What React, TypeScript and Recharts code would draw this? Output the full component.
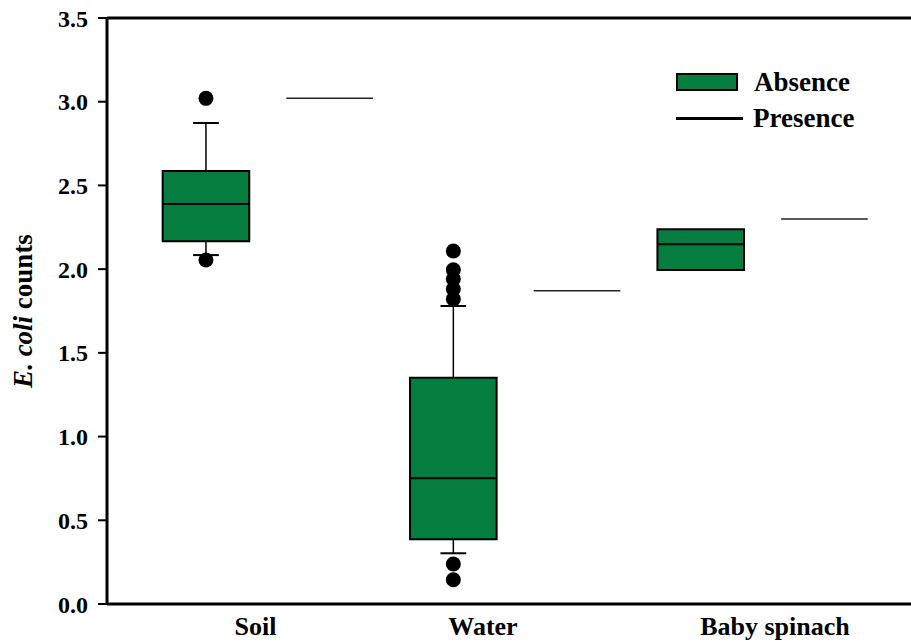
import React from 'react';
import {
  ComposedChart,
  XAxis,
  YAxis,
  Scatter,
  ReferenceArea,
  ReferenceLine,
} from 'recharts';

// one entry per group
const categories = ['Soil', 'Water', 'Baby spinach'];
const categoryTicks = [0.95, 1.87, 3.05];
const q1 = [2.166, 0.386, 1.995];
const median = [2.389, 0.751, 2.149];
const q3 = [2.586, 1.352, 2.238];
const whiskerLow = [2.084, 0.303, 1.995];
const whiskerHigh = [2.873, 1.78, 2.238];
const presence = [3.02, 1.871, 2.3];

const soilOutliers = [3.02, 2.055];
const waterOutliers = [2.108, 1.996, 1.941, 1.881, 1.822, 0.239, 0.145];
const spinachOutliers: number[] = [];

const yTicks = [0, 0.5, 1, 1.5, 2, 2.5, 3, 3.5];

const GREEN = '#057d3f';
const FONT = '"Liberation Serif", "Times New Roman", serif';

const BOX_OFF = -0.25;
const PRES_OFF = 0.25;
const HALF_BOX = 0.175;
const HALF_CAP = 0.052;

const outlierPoints = [soilOutliers, waterOutliers, spinachOutliers].flatMap((vals, i) =>
  vals.map((y) => ({ x: i + 1 + BOX_OFF, y }))
);

const renderYLabel = (props: any) => {
  const vb = props.viewBox || { x: 0, y: 18, width: 107, height: 586 };
  const cx = 23;
  const cy = vb.y + vb.height / 2;
  return (
    <text
      x={cx}
      y={cy}
      transform={`rotate(-90, ${cx}, ${cy})`}
      textAnchor="middle"
      dominantBaseline="central"
      fontFamily={FONT}
      fontWeight="bold"
      fontSize={27}
      fill="#000"
    >
      <tspan fontStyle="italic">E. coli</tspan>
      <tspan> counts</tspan>
    </text>
  );
};

function LegendBox() {
  return (
    <div
      style={{
        position: 'absolute',
        left: 676,
        top: 64,
        fontFamily: FONT,
        fontWeight: 'bold',
        fontSize: 27,
        color: '#000',
        lineHeight: '36px',
      }}
    >
      <div style={{ display: 'flex', alignItems: 'center' }}>
        <span style={{ display: 'inline-block', width: 58, height: 14, background: GREEN, border: '2px solid #000', marginRight: 16 }} />
        <span>Absence</span>
      </div>
      <div style={{ display: 'flex', alignItems: 'center' }}>
        <span style={{ display: 'inline-block', width: 67, height: 3, background: '#000', marginRight: 10 }} />
        <span>Presence</span>
      </div>
    </div>
  );
}

export default function App() {
  return (
    <div style={{ position: 'absolute', left: 0, top: 0, width: 911, height: 643, overflow: 'hidden', background: '#fff' }}>
      <ComposedChart width={911} height={643} margin={{ top: 18, right: 0, bottom: 0, left: 0 }}>
        <XAxis
          type="number"
          dataKey="x"
          domain={[0.35, 3.6]}
          ticks={categoryTicks}
          tickFormatter={(v: number) => categories[categoryTicks.indexOf(v)] ?? ''}
          interval={0}
          height={39}
          axisLine={{ stroke: '#000', strokeWidth: 3 }}
          tickLine={false}
          tickSize={0}
          tickMargin={13}
          tick={{ fontFamily: FONT, fontWeight: 'bold', fontSize: 26, fill: '#000' }}
          allowDataOverflow
        />
        <YAxis
          type="number"
          dataKey="y"
          domain={[0, 3.5]}
          ticks={yTicks}
          tickFormatter={(v: number) => v.toFixed(1)}
          interval={0}
          width={107}
          axisLine={{ stroke: '#000', strokeWidth: 3 }}
          tickLine={{ stroke: '#000', strokeWidth: 2 }}
          tickSize={9}
          tickMargin={10}
          tick={{ fontFamily: FONT, fontWeight: 'bold', fontSize: 24, fill: '#000' }}
          label={{ content: renderYLabel }}
          allowDataOverflow
        />
        <ReferenceLine y={3.5} stroke="#000" strokeWidth={3} ifOverflow="visible" />

        {categories.map((c, i) => {
          const bx = i + 1 + BOX_OFF;
          const px = i + 1 + PRES_OFF;
          const els: React.ReactNode[] = [];
          if (whiskerHigh[i] > q3[i]) {
            els.push(
              <ReferenceLine key={`wh${c}`} segment={[{ x: bx, y: q3[i] }, { x: bx, y: whiskerHigh[i] }]} stroke="#000" strokeWidth={1.5} />,
              <ReferenceLine key={`ch${c}`} segment={[{ x: bx - HALF_CAP, y: whiskerHigh[i] }, { x: bx + HALF_CAP, y: whiskerHigh[i] }]} stroke="#000" strokeWidth={2} />
            );
          }
          if (whiskerLow[i] < q1[i]) {
            els.push(
              <ReferenceLine key={`wl${c}`} segment={[{ x: bx, y: q1[i] }, { x: bx, y: whiskerLow[i] }]} stroke="#000" strokeWidth={1.5} />,
              <ReferenceLine key={`cl${c}`} segment={[{ x: bx - HALF_CAP, y: whiskerLow[i] }, { x: bx + HALF_CAP, y: whiskerLow[i] }]} stroke="#000" strokeWidth={2} />
            );
          }
          els.push(
            <ReferenceArea
              key={`box${c}`}
              x1={bx - HALF_BOX}
              x2={bx + HALF_BOX}
              y1={q1[i]}
              y2={q3[i]}
              fill={GREEN}
              fillOpacity={1}
              stroke="#000"
              strokeWidth={2}
            />,
            <ReferenceLine key={`med${c}`} segment={[{ x: bx - HALF_BOX, y: median[i] }, { x: bx + HALF_BOX, y: median[i] }]} stroke="#000" strokeWidth={2} />,
            <ReferenceLine key={`pres${c}`} segment={[{ x: px - HALF_BOX, y: presence[i] }, { x: px + HALF_BOX, y: presence[i] }]} stroke="#222" strokeWidth={1.5} />
          );
          return els;
        })}

        <Scatter
          data={outlierPoints}
          dataKey="y"
          fill="#000"
          isAnimationActive={false}
          shape={(p: any) => <circle cx={p.cx} cy={p.cy} r={7.5} fill="#000" />}
        />
      </ComposedChart>
      <LegendBox />
    </div>
  );
}
